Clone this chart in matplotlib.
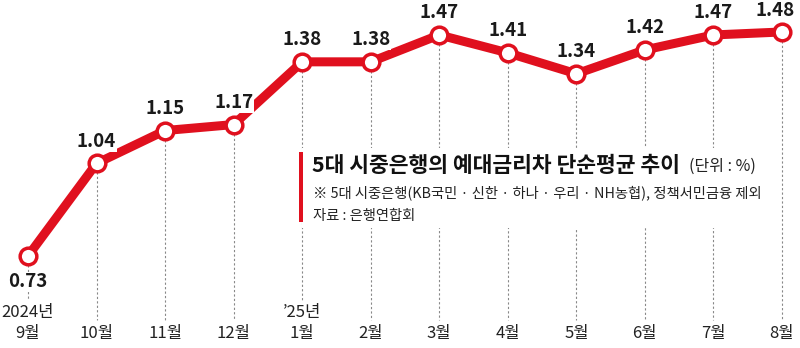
import matplotlib.pyplot as plt
import matplotlib.patches as mpatches

plt.rcParams['font.family'] = ['Noto Sans CJK KR', 'DejaVu Sans']

months = ['9월', '10월', '11월', '12월', '1월', '2월', '3월', '4월', '5월', '6월', '7월', '8월']
years = {0: '2024년', 4: '\u201925년'}
values = [0.73, 1.04, 1.15, 1.17, 1.38, 1.38, 1.47, 1.41, 1.34, 1.42, 1.47, 1.48]

title = '5대 시중은행의 예대금리차 단순평균 추이'
unit = '(단위 : %)'
note = '※ 5대 시중은행(KB국민 · 신한 · 하나 · 우리 · NH농협), 정책서민금융 제외'
source = '자료 : 은행연합회'

RED = '#e0101e'

fig = plt.figure(figsize=(8, 3.48), dpi=100)
ax = fig.add_axes([0, 0, 1, 1])
ax.set_xlim(-0.408, 11.262)
ax.set_ylim(0.422, 1.587)
ax.axis('off')

x = list(range(len(values)))
xt = ax.get_xaxis_transform()
to_data = lambda ya: ax.transData.inverted().transform(ax.transAxes.transform((0, ya)))[1]

# dashed guides from each point down to the month labels
for i, v in enumerate(values):
    bottom = 0.138 if i in years else 0.08
    ax.plot([i, i], [v, to_data(bottom)], color='#888888',
            lw=0.8, ls=(0, (2, 2)), zorder=1)

ax.plot(x, values, color=RED, lw=6.5, solid_joinstyle='round',
        solid_capstyle='round', zorder=3)
ax.plot(x, values, ls='none', marker='o', ms=12, mfc='white', mec=RED,
        mew=2.5, zorder=4)

for i, v in enumerate(values):
    if i == 0:
        off = (0, -26)
    elif i == len(values) - 1:
        off = (-7, 21)
    else:
        off = (0, 22)
    ax.annotate(f'{v:.2f}', (i, v), xytext=off, textcoords='offset pixels',
                ha='center', va='center', fontsize=13.5, fontweight='bold',
                color='#1a1a1a', zorder=5,
                bbox=dict(boxstyle='square,pad=0.05', fc='white', ec='none'))

for i, m in enumerate(months):
    ax.text(i, 0.043, m, transform=xt, ha='center', va='center',
            fontsize=12, color='#222222')
for i, yl in years.items():
    ax.text(i, 0.101, yl, transform=xt, ha='center', va='center',
            fontsize=12, color='#222222')

# title block
bg = mpatches.Rectangle((302 / 800, 1 - 228 / 348), 470 / 800, 80 / 348,
                        transform=fig.transFigure, fc='white', ec='none', zorder=6)
fig.patches.append(bg)
bar = mpatches.Rectangle((299 / 800, 1 - 222 / 348), 4 / 800, 70 / 348,
                         transform=fig.transFigure, fc=RED, ec='none', zorder=7)
fig.patches.append(bar)

fig.text(312 / 800, 1 - 165 / 348, title, ha='left', va='center',
         fontsize=15.5, fontweight='heavy', color='#111111', zorder=8)
fig.text(689 / 800, 1 - 166 / 348, unit, ha='left', va='center',
         fontsize=11.5, color='#222222', zorder=8)
fig.text(313 / 800, 1 - 193 / 348, note, ha='left', va='center',
         fontsize=10.3, color='#222222', zorder=8)
fig.text(313 / 800, 1 - 216 / 348, source, ha='left', va='center',
         fontsize=10.3, color='#222222', zorder=8)

fig.savefig('out.png', dpi=100, facecolor='white')
